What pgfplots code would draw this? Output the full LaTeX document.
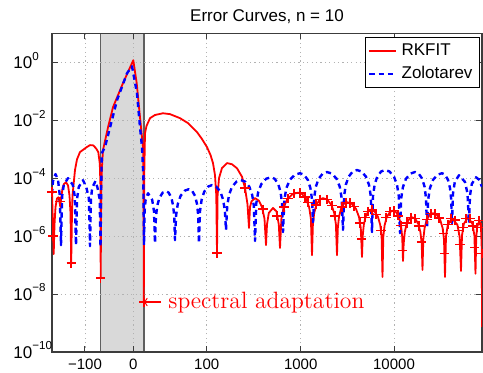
\documentclass[border=0pt]{standalone}
\usepackage{fontspec}
\usepackage{pgfplots}
\pgfplotsset{compat=1.18}
\newfontfamily\lsans{Liberation Sans}
\definecolor{mred}{RGB}{255,0,0}
\definecolor{mblue}{RGB}{0,0,255}
\definecolor{shade}{RGB}{217,217,217}
\definecolor{edgegray}{RGB}{95,95,95}
\definecolor{axgray}{RGB}{60,60,60}
\newcommand{\ylab}[1]{10\raisebox{0.5em}{\fontsize{5.8}{6}\selectfont #1}}
\begin{document}
\begin{tikzpicture}
\pgfplotsset{set layers}
\begin{axis}[
  scale only axis, width=215pt, height=159.35pt,
  xmin=52, xmax=482, ymin=-10, ymax=1,
  xtick={85,133.3,206.7,300.7,394},
  xticklabels={−100,0,100,1000,10000},
  ytick={-10,-8,-6,-4,-2,0},
  yticklabels={\ylab{−10},\ylab{−8},\ylab{−6},\ylab{−4},\ylab{−2},\ylab{0}},
  xticklabel style={font=\lsans\fontsize{7.5}{9}\selectfont, anchor=base, yshift=-9pt, inner sep=0pt},
  yticklabel style={font=\lsans\fontsize{8.5}{10}\selectfont, anchor=base west, xshift=-19.5pt, yshift=-3.2pt, inner sep=0pt},
  grid=major,
  major grid style={color=gray!60, line width=0.4pt, dash pattern=on 0.6pt off 1.6pt},
  axis line style={axgray, line width=0.6pt},
  tick style={axgray, line width=0.5pt},
  major tick length=3pt, tick align=inside,
  every axis title shift=0pt,
  title={Error Curves, n = 10},
  title style={font=\lsans\fontsize{8.5}{10}\selectfont, at={(0.5,1)}, anchor=base, yshift=5.8pt, inner sep=0pt},
  legend style={at={(1,1)}, anchor=north east, xshift=-1pt, yshift=-2pt,
    font=\lsans\fontsize{8.5}{10}\selectfont, draw=black, line width=0.5pt,
    inner xsep=1.5pt, inner ysep=1pt, cells={anchor=west}},
  legend image code/.code={\draw[#1] (0pt,0pt) -- (13.5pt,0pt);},
  line join=round,
]
\addplot[on layer=axis background, fill=shade, draw=edgegray, line width=0.6pt, forget plot]
  coordinates {(100.7,-10) (100.7,1) (144,1) (144,-10)} -- cycle;

\addplot[mred, line width=0.9pt, line join=round] coordinates {
(52,-4.48) (53,-5.7) (53.7,-6.62) (54.5,-5.6) (55.5,-5.0) (57,-4.70) (58.5,-4.66) (59.8,-4.85) (60.4,-5.0) (61,-4.75) (62.5,-4.35) (64,-4.2) (66,-4.14) (68,-4.25) (69.5,-4.6) (70.5,-5.2) (71.2,-6.93) (72,-5.2) (72.5,-4.6) (75,-3.72) (77,-3.35) (80,-3.1) (86.7,-2.93) (90,-2.86) (93.3,-2.87) (96,-2.97) (98.3,-3.10) (99.8,-3.5) (100.4,-4.2) (100.7,-7.45) (101.2,-4.5) (102,-3.6) (103,-3.03) (108,-2.25) (113,-1.55) (123,-0.72) (133.3,0.07) (136.7,-0.72) (140,-1.90) (143.3,-3.03) (143.6,-5.0) (143.8,-8.28) (144.2,-4.0) (145,-2.45) (146.5,-2.2) (150,-1.93) (155,-1.82) (163,-1.76) (170,-1.79) (180,-1.93) (188,-2.1) (197,-2.41) (202,-2.65) (207,-2.93) (210.5,-3.2) (213,-3.48) (215,-3.9) (216.3,-4.6) (217,-6.59) (217.6,-4.6) (219,-4.0) (222,-3.65) (227,-3.48) (232,-3.52) (237,-3.66) (242,-3.95) (245,-4.34) (247.5,-4.9) (249,-5.72) (250,-5.0) (251.5,-4.8) (255,-4.69) (259,-4.78) (262,-5.0) (264.5,-5.4) (266,-6.31) (267,-5.6) (268.8,-5.2) (273,-5.03) (276.5,-5.15) (278.8,-5.6) (280,-6.41) (281.4,-5.4) (283.6,-5.01) (287.2,-4.73) (292.6,-4.55) (298,-4.5) (302.2,-4.55) (306.4,-4.73) (309.2,-5.01) (310.9,-5.4) (312,-6.66) (312.9,-5.59) (314.2,-5.2) (316.4,-4.92) (319.7,-4.74) (323,-4.69) (327.2,-4.74) (331.4,-4.92) (334.2,-5.2) (335.9,-5.59) (337,-6.66) (337.8,-5.73) (339,-5.34) (341,-5.06) (344,-4.88) (347,-4.83) (351.5,-4.88) (356,-5.06) (359,-5.34) (360.8,-5.73) (362,-6.72) (362.7,-6.0) (363.8,-5.61) (365.6,-5.33) (368.3,-5.15) (371,-5.1) (374.5,-5.15) (377.9,-5.33) (380.2,-5.61) (381.6,-6.0) (382.5,-7.41) (383.3,-6.02) (384.6,-5.63) (386.7,-5.35) (389.9,-5.17) (393,-5.12) (396,-5.17) (399,-5.35) (401,-5.63) (402.2,-6.02) (403,-6.86) (403.7,-6.25) (404.8,-5.86) (406.6,-5.58) (409.3,-5.40) (412,-5.35) (415.2,-5.40) (418.3,-5.58) (420.4,-5.86) (421.7,-6.25) (422.5,-7.17) (423.3,-6.11) (424.6,-5.72) (426.7,-5.44) (429.9,-5.26) (433,-5.21) (436.6,-5.26) (440.2,-5.44) (442.6,-5.72) (444,-6.11) (445,-7.41) (446,-6.01) (447.8,-5.61) (452,-5.38) (457.4,-5.61) (459.6,-6.01) (461,-7.2) (462,-5.98) (463.8,-5.58) (468,-5.35) (472.5,-5.58) (474.4,-5.98) (475.5,-7.3) (476.2,-6.1) (477,-5.7) (479.5,-5.45) (481,-5.7) (481.8,-6.5) (482,-9.14)
};
\addlegendentry{RKFIT}

\addplot[mblue, line width=1.2pt, dash pattern=on 2.6pt off 2pt, line join=round] coordinates {
(52,-4.55) (53,-4.1) (55.5,-3.86) (58,-4.05) (59.8,-4.6) (61,-6.31) (62.1,-4.63) (63.8,-4.23) (68,-4.0) (72.8,-4.23) (74.8,-4.63) (76,-6.31) (77.1,-4.70) (78.8,-4.30) (83,-4.07) (86.2,-4.30) (88.9,-4.70) (90,-6.35) (90.9,-4.73) (92.2,-4.33) (95.5,-4.10) (97.5,-4.33) (99.7,-4.73) (100.5,-6.38) (101.7,-3.14) (105,-2.93) (117,-1.31) (127,-0.38) (132,-0.14) (137,-1.07) (140,-2.24) (142,-2.93) (143.3,-3.9) (144,-6.31) (144.6,-5.15) (145.6,-4.75) (148,-4.52) (152.2,-4.75) (154,-5.15) (155,-6.24) (155.9,-5.35) (157.2,-4.96) (159.4,-4.68) (162.7,-4.50) (166,-4.45) (168.7,-4.50) (171.4,-4.68) (173.2,-4.96) (174.3,-5.35) (175,-6.14) (176.1,-5.28) (177.8,-4.89) (180.6,-4.61) (184.8,-4.43) (189,-4.38) (192,-4.43) (195,-4.61) (197,-4.89) (198.2,-5.28) (199,-6.24) (200,-5.14) (201.6,-4.75) (204.2,-4.47) (208.1,-4.29) (212,-4.24) (216.2,-4.29) (220.4,-4.47) (223.2,-4.75) (224.9,-5.14) (226,-5.79) (227.2,-4.97) (229,-4.58) (232,-4.30) (236.5,-4.12) (241,-4.07) (245.2,-4.12) (249.4,-4.30) (252.2,-4.58) (253.9,-4.97) (255,-6.17) (256.3,-4.87) (258.2,-4.48) (261.4,-4.20) (266.2,-4.02) (271,-3.97) (274.6,-4.02) (278.2,-4.20) (280.6,-4.48) (282,-4.87) (283,-5.86) (284.4,-4.73) (286.4,-4.34) (289.8,-4.06) (294.9,-3.88) (300,-3.83) (303.9,-3.88) (307.8,-4.06) (310.4,-4.34) (312,-4.73) (313,-5.52) (314.1,-4.69) (315.8,-4.30) (318.6,-4.02) (322.8,-3.84) (327,-3.79) (331.8,-3.84) (336.6,-4.02) (339.8,-4.30) (341.7,-4.69) (343,-5.79) (344.1,-4.62) (345.8,-4.23) (348.6,-3.95) (352.8,-3.77) (357,-3.72) (361.5,-3.77) (366,-3.95) (369,-4.23) (370.8,-4.62) (372,-5.86) (373,-4.62) (374.6,-4.23) (377.2,-3.95) (381.1,-3.77) (385,-3.72) (389.5,-3.77) (394,-3.95) (397,-4.23) (398.8,-4.62) (400,-5.90) (401.2,-4.69) (403,-4.30) (406,-4.02) (410.5,-3.84) (415,-3.79) (418.6,-3.84) (422.2,-4.02) (424.6,-4.30) (426,-4.69) (427,-5.69) (428.2,-4.73) (430,-4.34) (433,-4.06) (437.5,-3.88) (442,-3.83) (445,-3.88) (448,-4.06) (450,-4.34) (451.2,-4.73) (452,-5.55) (453,-4.53) (454.8,-4.13) (459,-3.90) (465,-4.13) (467.5,-4.53) (469,-5.55) (470,-4.60) (471.8,-4.20) (476,-3.97) (479,-4.05) (482,-4.3)
};
\addlegendentry{Zolotarev}

\addplot[mred, only marks, mark=+, mark size=2.3pt, line width=0.7pt, forget plot] coordinates {
(52,-4.48) (53,-6.0) (60,-4.8) (71.2,-6.93) (100.7,-7.45) (143.8,-8.28) (217,-6.59) (245,-4.34) (263,-5.07) (277,-5.3) (284,-5.0) (288,-4.7) (294,-4.53) (300,-4.51) (305,-4.65) (308,-4.85) (316,-4.92) (320,-4.73) (327,-4.74) (332,-4.95) (335,-5.3) (342,-5.0) (346,-4.84) (350,-4.86) (354,-4.97) (360,-5.55) (361.5,-6.1) (365,-5.35) (368,-5.15) (372,-5.1) (376,-5.25) (381,-5.8) (386,-5.35) (390,-5.15) (394,-5.12) (398,-5.3) (401,-5.63) (402.5,-6.5) (407,-5.55) (411,-5.36) (415,-5.40) (419,-5.65) (421.5,-6.2) (427,-5.42) (431,-5.23) (435,-5.24) (439,-5.38) (443.5,-5.9) (444.5,-6.6) (448,-5.6) (451,-5.4) (455,-5.45) (458.5,-5.8) (460,-6.3) (463,-5.7) (466,-5.4) (470,-5.4) (473,-5.65) (474.8,-6.4) (477,-5.7) (479,-5.46) (481,-5.7) (481.8,-6.6)
};

\draw[mred, line width=0.6pt, ->] (axis cs:161,-8.276) -- (axis cs:143.2,-8.276);
\node[mred, anchor=base west, inner sep=0pt, font=\fontsize{11.8}{13}\selectfont] at (axis cs:168,-8.483) {spectral adaptation};
\end{axis}
\pgfresetboundingbox
\path ([shift={(-26pt,-10.5pt)}]current axis.south west) rectangle ([shift={(0.5pt,16.65pt)}]current axis.north east);
\end{tikzpicture}
\end{document}
